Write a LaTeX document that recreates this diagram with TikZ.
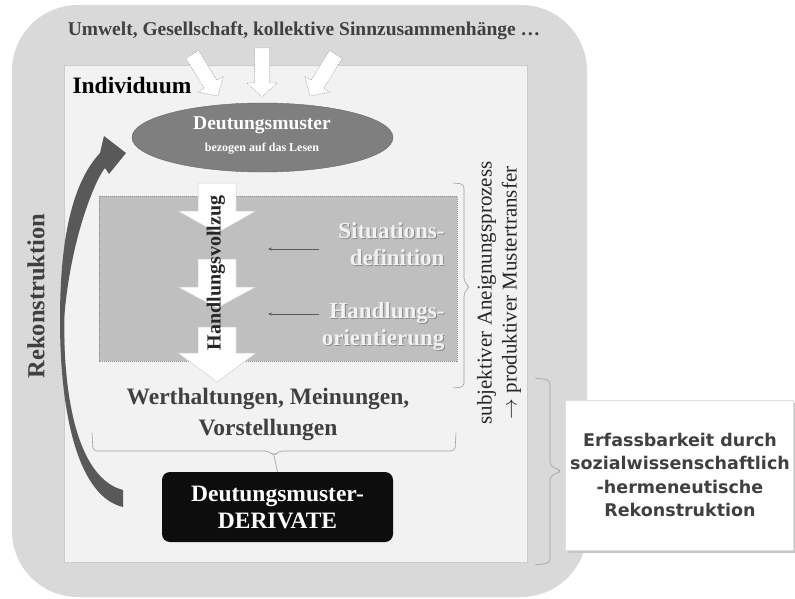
\documentclass[tikz,border=0pt]{standalone}
\usepackage{fontspec}
\setmainfont{Liberation Serif}
\newfontfamily\verd{DejaVu Sans}
\usetikzlibrary{arrows.meta,shapes.geometric}
\definecolor{outergray}{HTML}{D9D9D9}
\definecolor{innergray}{HTML}{F2F2F2}
\definecolor{boxgray}{HTML}{BFBFBF}
\definecolor{ellgray}{HTML}{7F7F7F}
\definecolor{darktext}{HTML}{404040}
\definecolor{arrowgray}{HTML}{595959}
\definecolor{shadowtext}{HTML}{8C8C8C}
\tikzset{
  whitearrow/.style={fill=white, draw=gray!70, line width=0.5, dash pattern=on 1pt off 0.8pt},
  blockarr/.pic={\path[whitearrow] (-7.5,-49) -- (7.5,-49) -- (7.5,-14) -- (15,-14) -- (0,0) -- (-15,-14) -- (-7.5,-14) -- cycle;},
  bigwhite/.style={fill=white, draw=gray!35, line width=0.5},
  bracestyle/.style={draw=gray!75, line width=0.6, rounded corners=4},
  thinarr/.style={draw=arrowgray, line width=0.6, -{Stealth[length=4pt,width=3pt]}},
  lighttxt/.style={text=innergray, font=\bfseries\fontsize{23}{27}\selectfont, align=right, anchor=east},
  shadowtxt/.style={text=shadowtext, font=\bfseries\fontsize{23}{27}\selectfont, align=right, anchor=east},
}
\newcommand\grayarrow[3]{\path[bigwhite] (198,#1) -- (236,#1) -- (236,#2) -- (256,#2) -- (217,#3) -- (178,#2) -- (198,#2) -- cycle;}
\begin{document}
\begin{tikzpicture}[x=1pt,y=-1pt]
\useasboundingbox (0,0) rectangle (795,599);
% outer and inner frames
\fill[outergray, rounded corners=66] (12,5) rectangle (587,597);
\filldraw[fill=innergray, draw=gray!40, line width=0.6] (64,65) rectangle (527,562);
% top text
\node[font=\bfseries\fontsize{19.5}{22}\selectfont, text=darktext] (umwelt) at (304,31) {Umwelt, Gesellschaft, kollektive Sinnzusammenhänge …};
% incoming arrows
\pic[rotate=32] at (218,96) {blockarr};
\pic at (262,97) {blockarr};
\pic[rotate=-32] at (310,96) {blockarr};
% Individuum
\node[anchor=west, font=\bfseries\fontsize{23.5}{26}\selectfont] (ind) at (69,85) {Individuum};
% ellipse
\node[ellipse, fill=ellgray, draw=gray!80!black, line width=0.4, minimum width=261, minimum height=69, inner sep=0] (dm) at (262.5,137.5) {};
\node[text=white, font=\bfseries\fontsize{19.5}{22}\selectfont] (dmtitle) at (262,125) {Deutungsmuster};
\node[text=white, font=\bfseries\fontsize{12}{14}\selectfont] (dmsub) at (262,149) {bezogen auf das Lesen};
% gray box
\path[fill=boxgray, draw=gray!90, line width=0.5, dash pattern=on 1pt off 1pt] (99,196) rectangle (457,361);
% down arrows
\grayarrow{183}{211}{233}
\grayarrow{259}{287}{308}
\grayarrow{327}{353}{382}
\node[rotate=90, font=\bfseries\fontsize{20}{22}\selectfont, text=black!85] (hv) at (216,273) {Handlungsvollzug};
% labels in gray box
\node[shadowtxt] at (449,245) {Situations-\\definition};
\node[lighttxt] (sit) at (448,244) {Situations-\\definition};
\node[shadowtxt] at (449,328) {Handlungs-\\orientierung};
\node[lighttxt] (hor) at (448,327) {Handlungs-\\orientierung};
\coordinate (sitA) at (319,249);
\coordinate (sitB) at (268,249);
\coordinate (horA) at (319,314);
\coordinate (horB) at (268,314);
\draw[thinarr] (sitA) -- (sitB);
\draw[thinarr] (horA) -- (horB);
% brace right of gray box
\draw[bracestyle] (453,183) -- (464,184) -- (464,282) -- (470,287) -- (464,292) -- (464,387) -- (453,388);
\node[rotate=90, align=center, font=\fontsize{21}{25}\selectfont, text=black!85] (subj) at (499,293) {subjektiver Aneignungsprozess\\\(\rightarrow\) produktiver Mustertransfer};
% Werthaltungen
\node[font=\bfseries\fontsize{23.5}{31}\selectfont, text=darktext, align=center] (wert) at (268,414) {Werthaltungen, Meinungen,\\Vorstellungen};
% bottom brace
\draw[bracestyle] (92,433) -- (93,451) -- (269,451) -- (274,456) -- (279,451) -- (455,451) -- (456,433);
% derivate box
\node[rounded corners=8, fill=black!95, minimum width=231, minimum height=70, text=white, align=center, font=\bfseries\fontsize{23.5}{27}\selectfont] (deriv) at (277.5,507) {Deutungsmuster-\\DERIVATE};
\draw[draw=gray!75, line width=0.6] (274,456) -- (deriv.north);
% Rekonstruktion arrow
\fill[arrowgray] (123,507) .. controls (80,497) and (60,420) .. (60,320) .. controls (60,230) and (75,180) .. (100,153) -- (104,136) -- (126,153) -- (109,174) -- (105,168) .. controls (95,180) and (70,240) .. (64,320) .. controls (64,420) and (85,480) .. (123,490) -- cycle;
\node[rotate=90, font=\bfseries\fontsize{24.5}{27}\selectfont, text=darktext] (rek) at (36,296) {Rekonstruktion};
% right brace
\draw[bracestyle] (535,378) -- (550,380) -- (550,466) -- (562,471) -- (550,476) -- (550,563) -- (535,565);
% Erfassbarkeit box
\fill[gray!45] (568,403) rectangle (795,553);
\node[fill=white, draw=gray!25, line width=0.5, minimum width=228, minimum height=150, inner sep=0] (erfbox) at (679,475) {};
\node[font=\verd\bfseries\fontsize{17.5}{23.5}\selectfont, text=darktext, align=center] (erf) at (680,475) {Erfassbarkeit durch\\sozialwissenschaftlich\\-hermeneutische\\Rekonstruktion};
\end{tikzpicture}
\end{document}
